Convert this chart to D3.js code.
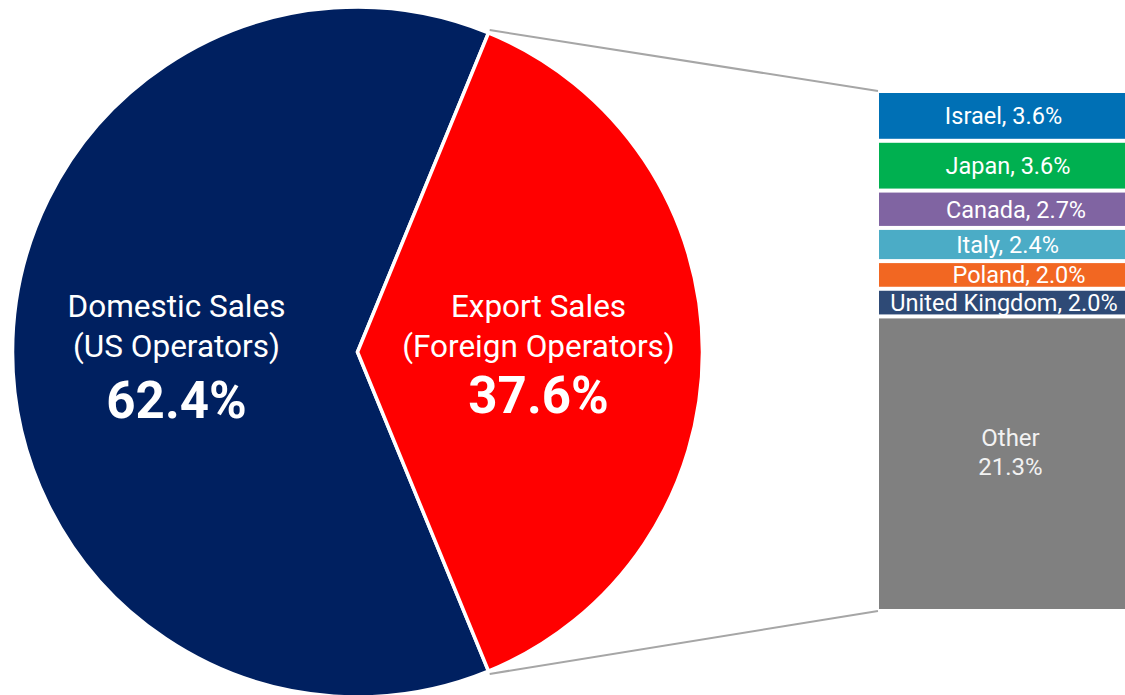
<!DOCTYPE html>
<html>
<head>
<meta charset="utf-8">
<script src="https://cdn.jsdelivr.net/npm/d3@7"></script>
<style>
  html, body { margin: 0; padding: 0; background: #ffffff; }
  svg { display: block; font-family: Roboto, "Noto Sans", Arial, sans-serif; }
</style>
</head>
<body>
<svg id="chart" width="1125" height="695"></svg>
<script>
// ---- data ----
const pieCategories = ["Domestic Sales", "Export Sales"];
const pieSubtitles = ["(US Operators)", "(Foreign Operators)"];
const pieValues = [62.4, 37.6];
const pieColors = ["#002060", "#ff0000"];

const barCategories = ["Israel", "Japan", "Canada", "Italy", "Poland", "United Kingdom", "Other"];
const barValues = [3.6, 3.6, 2.7, 2.4, 2.0, 2.0, 21.3];
const barColors = ["#0070b5", "#00b050", "#8064a2", "#4bacc6", "#f26722", "#2e4a76", "#808080"];

// label horizontal offsets (layout only)
const barLabelDx = [0, 4.5, 12.5, 4, 15.5, 0.5];

const fmt = d3.format(".1f");

// ---- layout ----
const svg = d3.select("#chart");
const cx = 357.5, cy = 352, R = 345;
const exportShare = pieValues[1] / d3.sum(pieValues);
const start = Math.PI / 2 + exportShare * Math.PI;

const pie = d3.pie().sort(null).startAngle(start).endAngle(start + 2 * Math.PI);
const arcs = pie(pieValues);
const arc = d3.arc().innerRadius(0).outerRadius(R);
const labelArc = d3.arc().innerRadius(181).outerRadius(181);

const gPie = svg.append("g").attr("transform", `translate(${cx},${cy})`);
gPie.selectAll("path")
  .data(arcs)
  .join("path")
  .attr("d", arc)
  .attr("fill", (d, i) => pieColors[i])
  .attr("stroke", "#ffffff")
  .attr("stroke-width", 3.5)
  .attr("stroke-linejoin", "miter");

const lbl = gPie.selectAll("g.lbl")
  .data(arcs)
  .join("g")
  .attr("class", "lbl")
  .attr("transform", d => {
    const [x, y] = labelArc.centroid(d);
    return `translate(${x},${y})`;
  });
lbl.append("text")
  .attr("text-anchor", "middle").attr("y", -35)
  .attr("fill", "#ffffff").attr("font-size", 31.5)
  .text((d, i) => pieCategories[i]);
lbl.append("text")
  .attr("text-anchor", "middle").attr("y", 5)
  .attr("fill", "#ffffff").attr("font-size", 31.5)
  .text((d, i) => pieSubtitles[i]);
lbl.append("text")
  .attr("text-anchor", "middle").attr("y", (d, i) => i === 0 ? 66 : 61)
  .attr("fill", "#ffffff").attr("font-size", 51).attr("font-weight", 700)
  .text((d, i) => fmt(pieValues[i]) + "%");

// ---- bar of pie ----
const barX0 = 879, barX1 = 1128;
const y = d3.scaleLinear().domain([0, d3.sum(barValues)]).range([91, 611]);
const cum = [];
barValues.reduce((acc, v) => { cum.push(acc); return acc + v; }, 0);

const gap = 2;
const gBar = svg.append("g");
gBar.selectAll("rect")
  .data(barValues)
  .join("rect")
  .attr("x", barX0)
  .attr("width", barX1 - barX0)
  .attr("y", (v, i) => y(cum[i]) + gap)
  .attr("height", (v, i) => y(cum[i] + v) - y(cum[i]) - 2 * gap)
  .attr("fill", (v, i) => barColors[i]);

const barCx = 1003.5;
gBar.selectAll("text.seg")
  .data(barValues.slice(0, 6))
  .join("text")
  .attr("class", "seg")
  .attr("x", (v, i) => barCx + barLabelDx[i])
  .attr("y", (v, i) => (y(cum[i]) + y(cum[i] + v)) / 2 + 8.5)
  .attr("text-anchor", "middle")
  .attr("fill", "#ffffff")
  .attr("font-size", 23.5)
  .text((v, i) => `${barCategories[i]}, ${fmt(v)}%`);

const oi = 6;
const oMid = (y(cum[oi]) + y(cum[oi] + barValues[oi])) / 2;
const oText = gBar.append("text")
  .attr("text-anchor", "middle")
  .attr("fill", "#f2f2f2")
  .attr("font-size", 24);
oText.append("tspan").attr("x", 1010.5).attr("y", oMid - 17.5).text(barCategories[oi]);
oText.append("tspan").attr("x", 1010.5).attr("y", oMid + 11).text(fmt(barValues[oi]) + "%");

// ---- connector lines ----
const a0 = arcs[1].startAngle, a1 = arcs[1].endAngle;
const edge = a => [cx + (R + 3) * Math.sin(a), cy - (R + 3) * Math.cos(a)];
const p0 = edge(a0), p1 = edge(a1);
svg.append("line")
  .attr("x1", p0[0]).attr("y1", p0[1])
  .attr("x2", barX0 - 1).attr("y2", y.range()[0])
  .attr("stroke", "#a6a6a6").attr("stroke-width", 2);
svg.append("line")
  .attr("x1", p1[0]).attr("y1", p1[1])
  .attr("x2", barX0 - 1).attr("y2", y.range()[1])
  .attr("stroke", "#a6a6a6").attr("stroke-width", 2);
</script>
</body>
</html>
